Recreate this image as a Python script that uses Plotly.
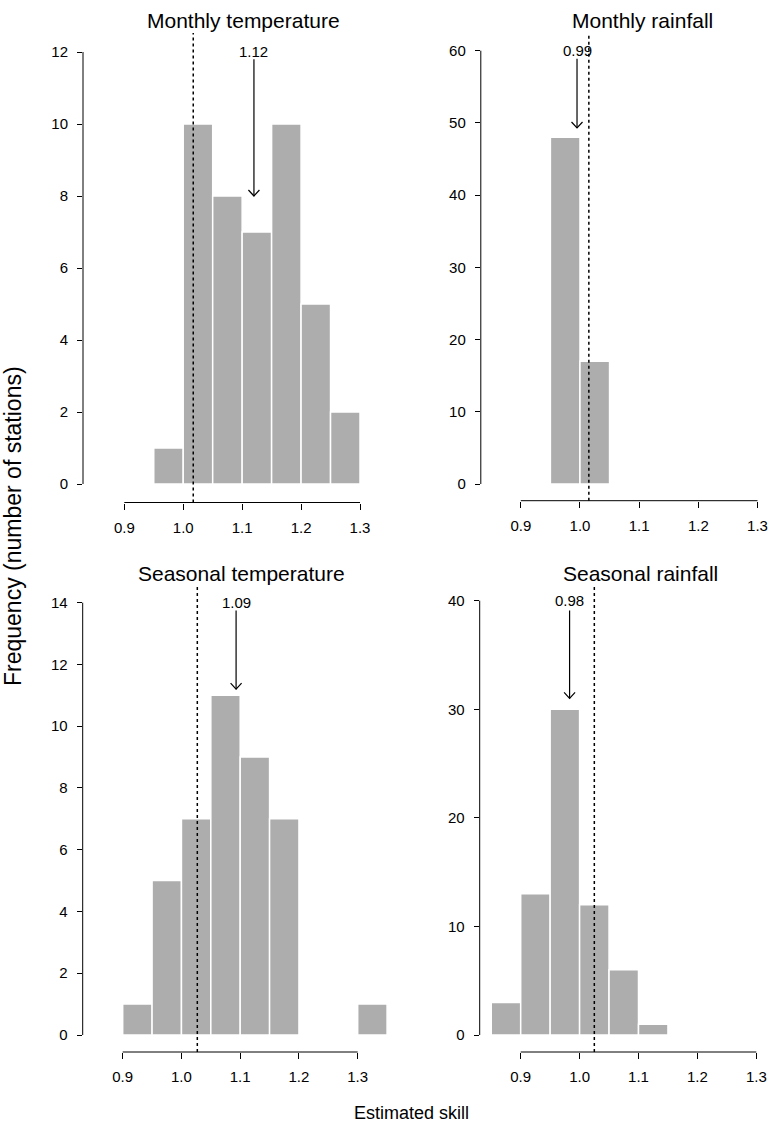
import plotly.graph_objects as go

W, H = 769, 1132

# ---------------- data ----------------
bin_width = 0.05
mt_left = [0.95, 1.00, 1.05, 1.10, 1.15, 1.20, 1.25]
mt_counts = [1, 10, 8, 7, 10, 5, 2]
mr_left = [0.95, 1.00]
mr_counts = [48, 17]
st_left = [0.90, 0.95, 1.00, 1.05, 1.10, 1.15, 1.30]
st_counts = [1, 5, 7, 11, 9, 7, 1]
sr_left = [0.85, 0.90, 0.95, 1.00, 1.05, 1.10]
sr_counts = [3, 13, 30, 12, 6, 1]

titles = ["Monthly temperature", "Monthly rainfall",
          "Seasonal temperature", "Seasonal rainfall"]
ref_lines = [1.017, 1.015, 1.027, 1.025]
median_labels = ["1.12", "0.99", "1.09", "0.98"]
median_x = [1.12, 0.995, 1.093, 0.983]
label_y = [12, 60, 14, 40]
arrow_start = [11.8, 58.9, 13.75, 39.1]
arrow_tip = [8.0, 49.3, 11.2, 31.0]
y_max = [12, 60, 14, 40]
y_step = [2, 10, 2, 10]
x_tickvals = [0.9, 1.0, 1.1, 1.2, 1.3]
x_ticktext = ["0.9", "1.0", "1.1", "1.2", "1.3"]

lefts = [mt_left, mr_left, st_left, sr_left]
counts = [mt_counts, mr_counts, st_counts, sr_counts]

# ---------------- layout geometry (pixels) ----------------
geom = [
    dict(x0=83.0, x1=390, xa=124.3, xb=360.0, y0=502.5, y1=33, ya=484, yb=52.0),
    dict(x0=480.8, x1=769, xa=520.8, xb=757.5, y0=500.7, y1=33, ya=484, yb=50.7),
    dict(x0=82.7, x1=390, xa=122.7, xb=357.7, y0=1052, y1=586, ya=1035, yb=602.7),
    dict(x0=479.7, x1=769, xa=520.7, xb=756.3, y0=1052, y1=585, ya=1035, yb=600.7),
]
title_pos = [(243.3, 20.7), (642.0, 20.7), (241.7, 573.0), (640.7, 573.0)]

FONT = "Liberation Sans, Arial, Helvetica, sans-serif"
BAR_COLOR = "#adadad"

fig = go.Figure()
layout = dict(
    width=W, height=H,
    margin=dict(l=0, r=0, t=0, b=0),
    paper_bgcolor="white", plot_bgcolor="white",
    showlegend=False, hovermode=False,
    font=dict(family=FONT, color="black", size=15),
)
shapes = []
annotations = []

for i in range(4):
    g = geom[i]
    kx = (g["xb"] - g["xa"]) / 0.4          # px per x unit
    ky = (g["ya"] - g["yb"]) / y_max[i]     # px per y unit
    xr = [0.9 - (g["xa"] - g["x0"]) / kx, 0.9 + (g["x1"] - g["xa"]) / kx]
    yr = [-(g["y0"] - g["ya"]) / ky, (g["ya"] - g["y1"]) / ky]
    sfx = "" if i == 0 else str(i + 1)
    xn, yn = "x" + sfx, "y" + sfx

    layout["xaxis" + sfx] = dict(
        domain=[g["x0"] / W, g["x1"] / W], range=xr, anchor=yn,
        showgrid=False, zeroline=False, showline=False,
        ticks="outside", ticklen=6, tickwidth=1, tickcolor="black",
        tickvals=x_tickvals, ticktext=x_ticktext,
        tickfont=dict(size=15, family=FONT, color="black"),
        ticklabelstandoff=5, ticklabeloverflow="allow", fixedrange=True,
    )
    layout["yaxis" + sfx] = dict(
        domain=[1 - g["y0"] / H, 1 - g["y1"] / H], range=yr, anchor=xn,
        showgrid=False, zeroline=False, showline=False,
        ticks="outside", ticklen=5, tickwidth=1, tickcolor="black",
        tickvals=list(range(0, y_max[i] + 1, y_step[i])),
        tickfont=dict(size=15, family=FONT, color="black"),
        ticklabelstandoff=6, fixedrange=True,
    )

    # histogram bars
    fig.add_trace(go.Bar(
        x=[l + bin_width / 2 for l in lefts[i]], y=counts[i],
        width=[bin_width] * len(lefts[i]),
        marker=dict(color=BAR_COLOR, line=dict(color="white", width=1.5)),
        xaxis=xn, yaxis=yn,
    ))

    # median arrow shaft and open head
    mx = median_x[i]
    fig.add_trace(go.Scatter(
        x=[mx, mx], y=[arrow_start[i], arrow_tip[i]], mode="lines",
        line=dict(color="black", width=1.2), xaxis=xn, yaxis=yn,
    ))
    dx, dy = 5.5 / kx, 6.0 / ky
    fig.add_trace(go.Scatter(
        x=[mx - dx, mx, mx + dx],
        y=[arrow_tip[i] + dy, arrow_tip[i], arrow_tip[i] + dy],
        mode="lines", line=dict(color="black", width=1.2),
        xaxis=xn, yaxis=yn,
    ))
    annotations.append(dict(
        x=mx, y=label_y[i], xref=xn, yref=yn, text=median_labels[i],
        showarrow=False, xanchor="center", yanchor="middle",
        font=dict(size=15, family=FONT, color="black"),
    ))

    # dotted reference line
    shapes.append(dict(
        type="line", xref=xn, yref=yn + " domain",
        x0=ref_lines[i], x1=ref_lines[i], y0=0, y1=1,
        line=dict(color="black", width=1.5, dash="dot"), layer="above",
    ))
    # detached R-style axis lines
    shapes.append(dict(
        type="line", xref=xn + " domain", yref=yn,
        x0=0, x1=0, y0=0, y1=y_max[i],
        line=dict(color="black", width=1),
    ))
    shapes.append(dict(
        type="line", xref=xn, yref=yn + " domain",
        x0=x_tickvals[0], x1=x_tickvals[-1], y0=0, y1=0,
        line=dict(color="black", width=1),
    ))

    tx, ty = title_pos[i]
    annotations.append(dict(
        x=tx / W, y=1 - ty / H, xref="paper", yref="paper", text=titles[i],
        showarrow=False, xanchor="center", yanchor="middle",
        font=dict(size=21, family=FONT, color="black"),
    ))

annotations.append(dict(
    x=13 / W, y=1 - 526 / H, xref="paper", yref="paper",
    text="Frequency (number of stations)", textangle=-90,
    showarrow=False, xanchor="center", yanchor="middle",
    font=dict(size=23, family=FONT, color="black"),
))
annotations.append(dict(
    x=411 / W, y=1 - 1113 / H, xref="paper", yref="paper",
    text="Estimated skill",
    showarrow=False, xanchor="center", yanchor="middle",
    font=dict(size=18, family=FONT, color="black"),
))

layout["shapes"] = shapes
layout["annotations"] = annotations
layout["bargap"] = 0
fig.update_layout(**layout)

fig.write_html(
    "out.html",
    config={"displayModeBar": False, "staticPlot": True},
    post_script="document.body.style.margin='0px';document.body.style.overflow='hidden';",
)
